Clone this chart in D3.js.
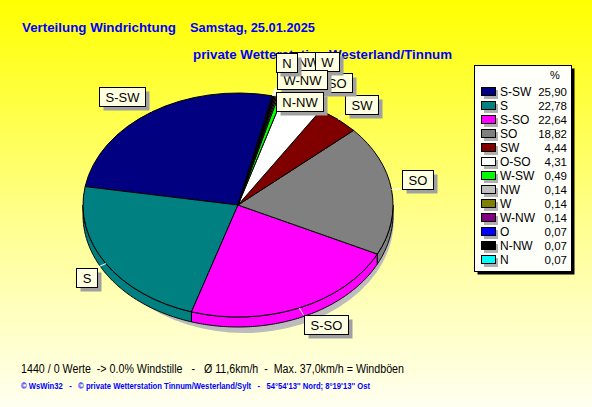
<!DOCTYPE html>
<html><head><meta charset="utf-8">
<script src="https://cdn.jsdelivr.net/npm/d3@7"></script>
<style>html,body{margin:0;padding:0;overflow:hidden;}svg{display:block;}text{white-space:pre;}</style>
</head><body>
<svg id="c" width="592" height="407"></svg>
<script>
// ---- data ----
const categories = ['S-SW','S','S-SO','SO','SW','O-SO','W-SW','NW','W','W-NW','O','N-NW','N'];
const values = [25.90,22.78,22.64,18.82,4.44,4.31,0.49,0.14,0.14,0.14,0.07,0.07,0.07];
const colors = ['#000080','#008080','#ff00ff','#808080','#800000','#ffffff','#00ff00','#c0c0c0','#808000','#800080','#0000ff','#000000','#00ffff'];
const titleLine1 = 'Verteilung Windrichtung';
const titleDate = 'Samstag, 25.01.2025';
const titleLine2 = 'private Wetterstation Westerland/Tinnum';
const footer1 = '1440 / 0 Werte  -> 0.0% Windstille   -   Ø 11,6km/h  -  Max. 37,0km/h = Windböen';
const footer2 = '© WsWin32   -   © private Wetterstation Tinnum/Westerland/Sylt   -   54°54\'13\'\' Nord; 8°19\'13\'\' Ost';

// ---- layout ----
const W = 592, H = 407;
const cx = 238, cy = 205, rx = 155, ry = 112, depth = 10;
const startDeg = 12.7;
const labelK = 1.07;
// manual nudges for crowded small-slice labels (offset from automatic spot)
const labelNudge = {'O-SO':[0,-4],'NW':[11,-18],'W':[36,-18],'N-NW':[0,23],'N':[1,-16]};
// labels completely covered by neighbours in the original are not drawn
const hiddenLabels = ['W-SW','O'];

const svg = d3.select('#c');
const defs = svg.append('defs');
const grad = defs.append('linearGradient').attr('id','bg').attr('x1',0).attr('y1',0).attr('x2',0).attr('y2',1);
grad.append('stop').attr('offset','0%').attr('stop-color','#ffff00');
grad.append('stop').attr('offset','55%').attr('stop-color','#ffff90');
grad.append('stop').attr('offset','100%').attr('stop-color','#fffff0');
svg.append('rect').attr('width',W).attr('height',H).attr('fill','url(#bg)');

// titles
const tf = 'Arial, "Liberation Sans", sans-serif';
const title = (txt,x,y,len)=>svg.append('text').attr('x',x).attr('y',y).attr('font-family',tf).attr('font-weight','bold')
  .attr('font-size',13.5).attr('fill','#0000ff').attr('textLength',len).attr('lengthAdjust','spacingAndGlyphs').text(txt);
title(titleLine1,22,32,154);
title(titleDate,190,32,125);
title(titleLine2,193,59,259);

// pie
const start = startDeg*Math.PI/180;
const pie = d3.pie().sort(null).value(d=>d.v).startAngle(start).endAngle(start-2*Math.PI);
const data = categories.map((c,i)=>({c, v:values[i], col:colors[i]}));
const arcs = pie(data);
const pt = (t,dy=0)=>[cx+rx*Math.sin(t), cy-ry*Math.cos(t)+dy];

// shadow
svg.append('ellipse').attr('cx',cx+6).attr('cy',cy+14).attr('rx',150).attr('ry',114).attr('fill','#bcbcbc');

// sides (front half)
const line = d3.line();
const sideG = svg.append('g');
arcs.forEach(a=>{
  const hi0 = Math.max(a.startAngle,a.endAngle), lo0 = Math.min(a.startAngle,a.endAngle);
  for(let k=-2;k<=1;k++){
    const fLo = Math.PI/2 + 2*Math.PI*k, fHi = 3*Math.PI/2 + 2*Math.PI*k;
    const lo = Math.max(lo0,fLo), hi = Math.min(hi0,fHi);
    if(lo<hi){
      const n = Math.max(2, Math.ceil((hi-lo)*80));
      const ts = d3.range(n+1).map(i=>lo+(hi-lo)*i/n);
      const top = ts.map(t=>pt(t));
      const bot = ts.slice().reverse().map(t=>pt(t,depth));
      sideG.append('path').attr('d', line(top.concat(bot))+'Z')
        .attr('fill',a.data.col).attr('stroke','#000').attr('stroke-width',1).attr('stroke-linejoin','round');
    }
  }
});

// top face
const arcGen = d3.arc().innerRadius(0).outerRadius(rx);
const topG = svg.append('g').attr('transform',`translate(${cx},${cy}) scale(1,${ry/rx})`);
topG.selectAll('path').data(arcs).join('path')
  .attr('d',arcGen).attr('fill',d=>d.data.col)
  .attr('stroke','#000').attr('stroke-width',1).attr('vector-effect','non-scaling-stroke');

// labels
const lf = 13, padX = 6, boxH = 19;
const measure = svg.append('text').attr('font-family',tf).attr('font-size',lf).attr('visibility','hidden');
const leadG = svg.append('g'), labG = svg.append('g');
arcs.forEach(a=>{
  const mid = (a.startAngle+a.endAngle)/2;
  const e = pt(mid);
  const ax = cx+(e[0]-cx)*labelK, ay = cy+(e[1]-cy)*labelK;
  leadG.append('line').attr('x1',e[0]).attr('y1',e[1]).attr('x2',ax).attr('y2',ay).attr('stroke','#fff').attr('stroke-width',1);
  if(hiddenLabels.includes(a.data.c)) return;
  measure.text(a.data.c);
  const tw = measure.node().getComputedTextLength();
  const bw = Math.round(tw+2*padX);
  let bx = ax<cx ? ax-bw : ax;
  let by = ay<cy ? ay-boxH : ay;
  const nd = labelNudge[a.data.c]||[0,0];
  bx = Math.round(bx+nd[0])+0.5; by = Math.round(by+nd[1])+0.5;
  const g = labG.append('g');
  g.append('rect').attr('x',bx+4).attr('y',by+4).attr('width',bw).attr('height',boxH).attr('fill','#a0a0a0');
  g.append('rect').attr('x',bx).attr('y',by).attr('width',bw).attr('height',boxH).attr('fill','#ffffe1').attr('stroke','#000');
  g.append('text').attr('x',bx+bw/2).attr('y',by+boxH/2+4.5).attr('text-anchor','middle')
    .attr('font-family',tf).attr('font-size',lf).attr('fill','#000').text(a.data.c);
});
measure.remove();

// legend
const lx = 474, ly = 65, lw = 97, lh = 206;
const fmt = d3.formatLocale({decimal:',',thousands:'.',grouping:[3],currency:['','']}).format('.2f');
svg.append('rect').attr('x',lx+3.5).attr('y',ly+3.5).attr('width',lw).attr('height',lh).attr('fill','#000');
svg.append('rect').attr('x',lx+0.5).attr('y',ly+0.5).attr('width',lw).attr('height',lh).attr('fill','#fffffa').attr('stroke','#000');
svg.append('text').attr('x',lx+76).attr('y',ly+14).attr('font-family',tf).attr('font-size',11).attr('fill','#000').text('%');
const rowY = d3.scaleLinear().domain([0,categories.length-1]).range([ly+26, ly+194]);
categories.forEach((c,i)=>{
  const y = rowY(i);
  svg.append('rect').attr('x',lx+10).attr('y',Math.round(y-4)+3).attr('width',14).attr('height',9).attr('fill','#b0b0b0');
  svg.append('rect').attr('x',lx+7.5).attr('y',Math.round(y-4)+0.5).attr('width',14).attr('height',8).attr('fill',colors[i]).attr('stroke','#000');
  svg.append('text').attr('x',lx+26).attr('y',y+4.5).attr('font-family',tf).attr('font-size',12).attr('fill','#000').text(c);
  svg.append('text').attr('x',lx+93).attr('y',y+4.5).attr('text-anchor','end').attr('font-family',tf).attr('font-size',11.5).attr('fill','#000').text(fmt(values[i]));
});

// footer
svg.append('text').attr('x',21).attr('y',373).attr('font-family',tf).attr('font-size',12).attr('fill','#000')
  .attr('textLength',383).attr('lengthAdjust','spacingAndGlyphs').text(footer1);
svg.append('text').attr('x',21).attr('y',389).attr('font-family',tf).attr('font-weight','bold').attr('font-size',8.5).attr('fill','#0000ff')
  .attr('textLength',349).attr('lengthAdjust','spacingAndGlyphs').text(footer2);
</script>
</body></html>
